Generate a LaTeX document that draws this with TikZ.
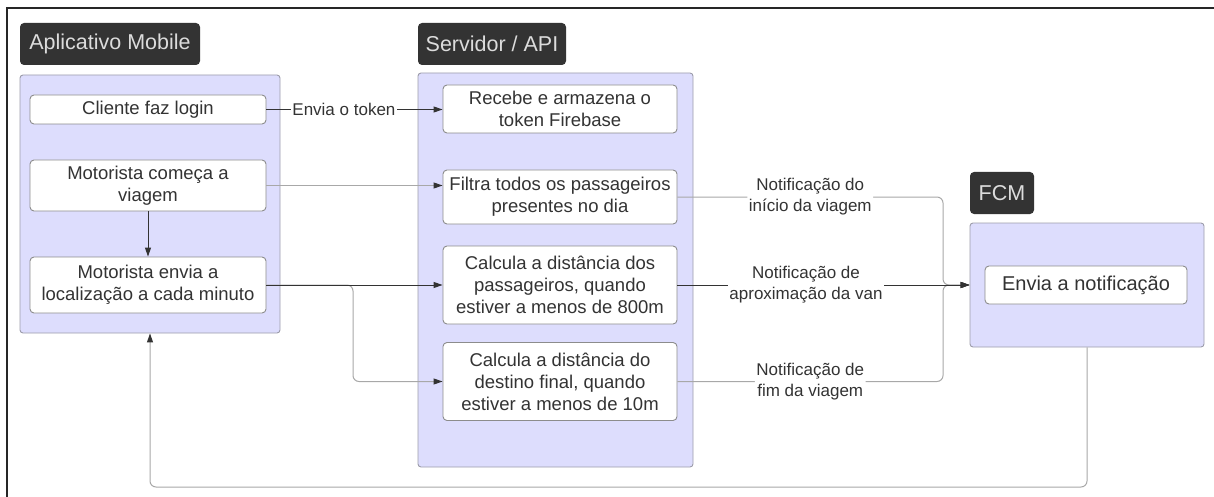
\documentclass[tikz,border=0pt]{standalone}
\usepackage{fontspec}
\setmainfont{Liberation Sans}
\usetikzlibrary{arrows.meta}

\definecolor{lanefill}{HTML}{DDDDFD}
\definecolor{laneline}{HTML}{9C9CAA}
\definecolor{boxline}{HTML}{8C8C8C}
\definecolor{headfill}{HTML}{333333}
\definecolor{headtext}{HTML}{DCDCDC}
\definecolor{ink}{HTML}{333333}
\definecolor{wire}{HTML}{A8A8A8}

\tikzset{
  lane/.style={draw=laneline, fill=lanefill, rounded corners=3pt, line width=0.9pt},
  head/.style={fill=headfill, text=headtext, rounded corners=4pt, inner sep=0pt,
    font=\fontsize{21.5}{24}\selectfont},
  task/.style={draw=boxline, fill=white, rounded corners=4pt, align=center, text=ink,
    inner sep=0pt, line width=0.9pt, font=\fontsize{18.5}{22}\selectfont},
  lbl/.style={fill=white, text=ink, align=center, inner sep=1.5pt,
    font=\fontsize{17}{21}\selectfont},
  link/.style={draw=ink, line width=1pt, -{Triangle[length=9pt,width=6pt]}},
  linklight/.style={draw=wire, line width=1pt, rounded corners=6pt,
    -{Triangle[length=9pt,width=6pt,color=ink]}},
}

\begin{document}
\begin{tikzpicture}[x=1pt, y=-1pt]
	\useasboundingbox (0,0) rectangle (1214,497);
	\draw[line width=1.5pt, black!85] (7,497) -- (7,8) -- (1214,8);

	% Aplicativo Mobile
	\node[head, minimum width=180pt, minimum height=42pt] (hmobile) at (110,44) {Aplicativo Mobile};
	\node[lane, minimum width=260pt, minimum height=258pt] (mobile) at (150,204) {};
	\node[task, minimum width=236pt, minimum height=29pt] (login) at (148,109.5) {Cliente faz login};
	\node[task, minimum width=236pt, minimum height=51pt] (start) at (148,185.5) {Motorista começa a\\viagem};
	\node[task, minimum width=236pt, minimum height=56pt] (location) at (148,285) {Motorista envia a\\localização a cada minuto};

	% Servidor / API
	\node[head, minimum width=148pt, minimum height=42pt] (hserver) at (492,44) {Servidor / API};
	\node[lane, minimum width=275pt, minimum height=394pt] (server) at (555.5,270) {};
	\node[task, minimum width=234pt, minimum height=48pt] (store) at (560,109) {Recebe e armazena o\\token Firebase};
	\node[task, minimum width=234pt, minimum height=54pt] (filter) at (560,197) {Filtra todos os passageiros\\presentes no dia};
	\node[task, minimum width=234pt, minimum height=78pt] (near) at (560,285) {Calcula a distância dos\\passageiros, quando\\estiver a menos de 800m};
	\node[task, minimum width=234pt, minimum height=78pt] (arrive) at (560,381.5) {Calcula a distância do\\destino final, quando\\estiver a menos de 10m};

	% FCM
	\node[head, minimum width=64pt, minimum height=42pt] (hfcm) at (1002,193) {FCM};
	\node[lane, minimum width=234pt, minimum height=124pt] (fcm) at (1087,285) {};
	\node[task, minimum width=202pt, minimum height=38pt, font=\fontsize{20}{24}\selectfont] (send) at (1086,285) {Envia a notificação};

	\coordinate (split) at (353,285);
	\coordinate (join) at (943,285);
	\coordinate (bottom) at (150,487);

	\draw[link] (login.east) -- node[lbl, pos=0.44] {Envia o token} (login.east -| store.west);
	\draw[linklight] (start.east) -- (start.east -| filter.west);
	\draw[link] (start) -- (location);
	\draw[linklight] (location.east) -- (split) |- (arrive.west);
	\draw[link] (location.east) -- (location.east -| near.west);

	\draw[linklight] (filter.east) -| node[lbl, pos=0.25] {Notificação do\\início da viagem} (join) -- (fcm.west);
	\draw[linklight] (arrive.east) -| node[lbl, pos=0.25] {Notificação de\\fim da viagem} (join) -- (fcm.west);
	\draw[link] (near.east) -- node[lbl, pos=0.44] {Notificação de\\aproximação da van} (fcm.west);

	\draw[linklight] (fcm.south) |- (bottom) -- (mobile.south);
\end{tikzpicture}
\end{document}
